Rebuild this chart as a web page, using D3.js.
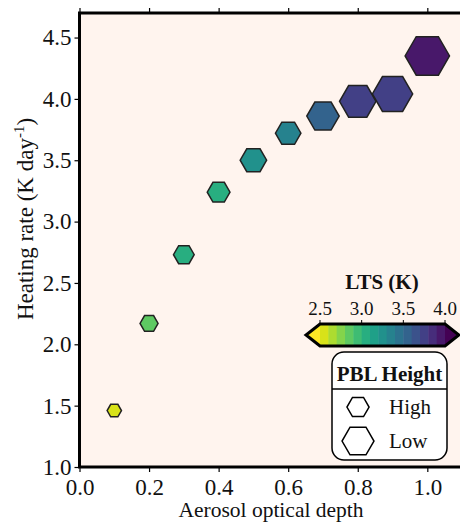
<!DOCTYPE html>
<html>
<head>
<script src="https://d3js.org/d3.v7.min.js"></script>
<style>
body { margin: 0; background: #fff; }
text { font-family: "Liberation Serif", "DejaVu Serif", serif; fill: #111; }
</style>
</head>
<body>
<div id="viz"></div>
<script>
// data
var aod         = [0.1, 0.2, 0.3, 0.4, 0.5, 0.6, 0.7, 0.8, 0.9, 1.0];
var heatingRate = [1.46, 2.17, 2.73, 3.24, 3.50, 3.72, 3.86, 3.98, 4.04, 4.35];
var lts         = [2.55, 2.85, 3.05, 3.06, 3.28, 3.35, 3.52, 3.72, 3.74, 3.95];
var pblHeight   = [1190, 1080, 1000, 940, 830, 860, 655, 535, 420, 300];

var xTicks = [0.0, 0.2, 0.4, 0.6, 0.8, 1.0];
var yTicks = [1.0, 1.5, 2.0, 2.5, 3.0, 3.5, 4.0, 4.5];
var ltsTicks = [2.5, 3.0, 3.5, 4.0];
var ltsBounds = [2.5, 2.6, 2.7, 2.8, 2.9, 3.0, 3.1, 3.2, 3.3, 3.4, 3.5, 3.6, 3.7, 3.8, 3.9, 4.0];
var legendLabels = ["High", "Low"];
var legendPbl = [960, 670];

var margin = {top: 13, left: 79.5};
var width = 382.6, height = 454;

var svg = d3.select("#viz").append("svg")
    .attr("width", 460)
    .attr("height", 526);

var g = svg.append("g")
    .attr("transform", "translate(" + margin.left + "," + margin.top + ")");

var x = d3.scaleLinear().domain([0, 1.1]).range([0, width]);
var y = d3.scaleLinear().domain([1.0, 4.7]).range([height, 0]);
var r = d3.scaleLinear().domain([1200, 300]).range([7, 22.2]);

// discrete viridis (reversed), with extend at both ends
var nb = ltsBounds.length - 1;
var binColors = ltsBounds.slice(0, nb).map(function(d, i) {
  return d3.interpolateViridis(1 - (i + 1) / (nb + 1));
});
var color = d3.scaleThreshold().domain(ltsBounds.slice(1, nb)).range(binColors);

function hexPath(rad) {
  var pts = d3.range(6).map(function(i) {
    var a = i * Math.PI / 3;
    return [rad * Math.cos(a), rad * Math.sin(a)];
  });
  return "M" + pts.join("L") + "Z";
}

// axes background
g.append("rect")
  .attr("width", width).attr("height", height)
  .style("fill", "#fff4ee");

// axes
var fs = "23px";
var xAxis = g.append("g").attr("transform", "translate(0," + height + ")")
  .call(d3.axisBottom(x).tickValues(xTicks).tickFormat(d3.format(".1f")).tickSize(5).tickPadding(3));
var xTop = g.append("g")
  .call(d3.axisTop(x).tickValues(xTicks).tickFormat("").tickSize(5));
var yAxis = g.append("g")
  .call(d3.axisLeft(y).tickValues(yTicks).tickFormat(d3.format(".1f")).tickSize(5).tickPadding(3));
[xAxis, xTop, yAxis].forEach(function(a) {
  a.select(".domain").remove();
  a.selectAll("line").style("stroke", "#000").style("stroke-width", 1.2);
  a.selectAll("text").style("font-size", fs).style("font-family", "Liberation Serif").style("fill", "#111");
});
xAxis.selectAll("text").attr("dy", "0.85em");

// points
g.selectAll(".pt")
  .data(aod)
  .enter().append("path")
  .attr("class", "pt")
  .attr("transform", function(d, i) { return "translate(" + x(d) + "," + y(heatingRate[i]) + ")"; })
  .attr("d", function(d, i) { return hexPath(r(pblHeight[i])); })
  .style("fill", function(d, i) { return color(lts[i]); })
  .style("stroke", "#222")
  .style("stroke-width", 1.5);

// spines
g.append("rect")
  .attr("width", width).attr("height", height)
  .style("fill", "none").style("stroke", "#000").style("stroke-width", 3);

// axis titles
svg.append("text")
  .attr("x", 271).attr("y", 517)
  .attr("text-anchor", "middle")
  .style("font-size", "21.5px")
  .text("Aerosol optical depth");

var yl = svg.append("text")
  .attr("transform", "translate(33,219) rotate(-90)")
  .attr("text-anchor", "middle")
  .style("font-size", "23px");
yl.append("tspan").text("Heating rate (K day");
yl.append("tspan").attr("dy", -9).style("font-size", "15px").text("-1");
yl.append("tspan").attr("dy", 9).text(")");

// colorbar
var cb = d3.scaleLinear().domain([2.5, 4.0]).range([320, 445]);
var cbTop = 324, cbH = 22, ext = 14;
var cbar = svg.append("g");
cbar.selectAll("rect")
  .data(binColors)
  .enter().append("rect")
  .attr("x", function(d, i) { return cb(ltsBounds[i]); })
  .attr("width", function(d, i) { return cb(ltsBounds[i + 1]) - cb(ltsBounds[i]) + 0.5; })
  .attr("y", cbTop).attr("height", cbH)
  .style("fill", function(d) { return d; });
cbar.append("path")
  .attr("d", "M" + cb(2.5) + "," + cbTop + "L" + (cb(2.5) - ext) + "," + (cbTop + cbH / 2) + "L" + cb(2.5) + "," + (cbTop + cbH) + "Z")
  .style("fill", d3.interpolateViridis(1));
cbar.append("path")
  .attr("d", "M" + cb(4.0) + "," + cbTop + "L" + (cb(4.0) + ext) + "," + (cbTop + cbH / 2) + "L" + cb(4.0) + "," + (cbTop + cbH) + "Z")
  .style("fill", d3.interpolateViridis(0));
cbar.append("path")
  .attr("d", "M" + cb(2.5) + "," + cbTop + "L" + cb(4.0) + "," + cbTop +
             "L" + (cb(4.0) + ext) + "," + (cbTop + cbH / 2) + "L" + cb(4.0) + "," + (cbTop + cbH) +
             "L" + cb(2.5) + "," + (cbTop + cbH) + "L" + (cb(2.5) - ext) + "," + (cbTop + cbH / 2) + "Z")
  .style("fill", "none").style("stroke", "#000").style("stroke-width", 3).style("stroke-linejoin", "miter");
cbar.selectAll(".cbt")
  .data(ltsTicks)
  .enter().append("line")
  .attr("x1", function(d) { return cb(d); }).attr("x2", function(d) { return cb(d); })
  .attr("y1", cbTop - 4).attr("y2", cbTop)
  .style("stroke", "#000").style("stroke-width", 1);
cbar.selectAll(".cbl")
  .data(ltsTicks)
  .enter().append("text")
  .attr("x", function(d) { return cb(d); }).attr("y", 315)
  .attr("text-anchor", "middle")
  .style("font-size", "19px")
  .text(function(d) { return d3.format(".1f")(d); });
svg.append("text")
  .attr("x", 382).attr("y", 289)
  .attr("text-anchor", "middle")
  .style("font-size", "21px").style("font-weight", "bold")
  .text("LTS (K)");

// size legend
var lg = svg.append("g");
lg.append("rect")
  .attr("x", 332).attr("y", 352).attr("width", 115).attr("height", 108)
  .attr("rx", 12)
  .style("fill", "#fff").style("stroke", "#000").style("stroke-width", 1.5);
lg.append("line")
  .attr("x1", 332).attr("x2", 447).attr("y1", 389).attr("y2", 389)
  .style("stroke", "#000").style("stroke-width", 1.5);
lg.append("text")
  .attr("x", 389.5).attr("y", 381)
  .attr("text-anchor", "middle")
  .style("font-size", "21px").style("font-weight", "bold")
  .text("PBL Height");
legendLabels.forEach(function(lab, i) {
  var cy = i === 0 ? 407 : 441;
  lg.append("path")
    .attr("transform", "translate(358," + cy + ")")
    .attr("d", hexPath(r(legendPbl[i])))
    .style("fill", "none").style("stroke", "#000").style("stroke-width", 1.5);
  lg.append("text")
    .attr("x", 389).attr("y", cy + 7)
    .style("font-size", "21px")
    .text(lab);
});
</script>
</body>
</html>
